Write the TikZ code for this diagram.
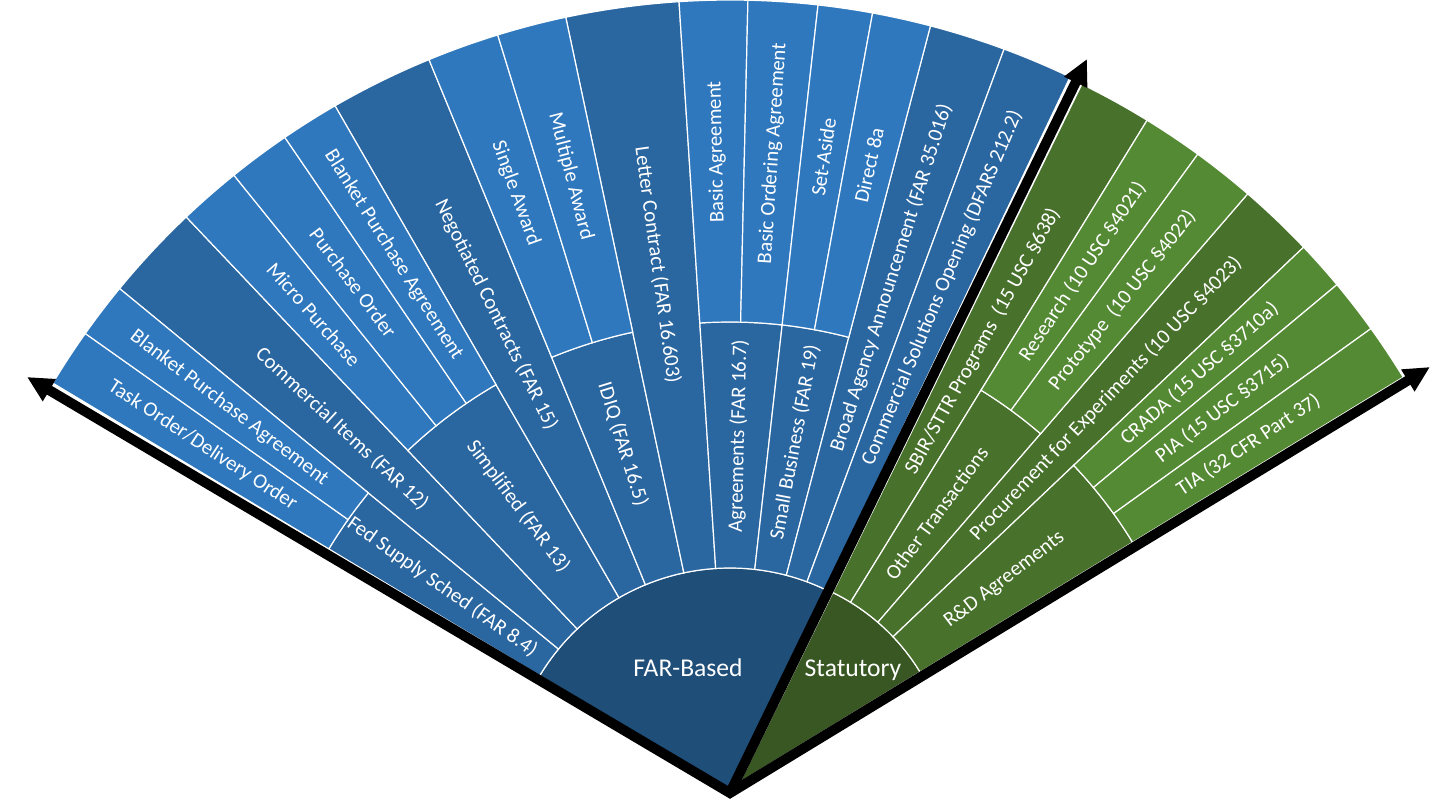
\documentclass[tikz,border=0pt]{standalone}
\usepackage{fontspec}
\setmainfont{Carlito}
\usetikzlibrary{arrows.meta}
\definecolor{farCoreBlue}{HTML}{1F4E79}
\definecolor{farOneBlue}{HTML}{2A66A0}
\definecolor{farTwoBlue}{HTML}{2F78BE}
\definecolor{statCoreGreen}{HTML}{385723}
\definecolor{statOneGreen}{HTML}{48712C}
\definecolor{statTwoGreen}{HTML}{558A35}
\tikzset{
  farcore/.style={fill=farCoreBlue, draw=white, line width=0.6pt},
  farone/.style={fill=farOneBlue, draw=white, line width=0.6pt},
  fartwo/.style={fill=farTwoBlue, draw=white, line width=0.6pt},
  statcore/.style={fill=statCoreGreen, draw=white, line width=0.6pt},
  statone/.style={fill=statOneGreen, draw=white, line width=0.6pt},
  stattwo/.style={fill=statTwoGreen, draw=white, line width=0.6pt},
  seglabel/.style={text=white, font=\fontsize{10.4}{12}\selectfont, inner sep=0pt},
  corelabel/.style={text=white, font=\fontsize{12.8}{15}\selectfont, inner sep=0pt},
  fanarrow/.style={line width=5pt, draw=black, line join=miter},
  fantip/.tip={Triangle[length=13pt, width=12pt]},
}
\newcommand{\fanseg}[6]{\filldraw[#1, shift={(#2)}] (#3:#5) arc[start angle=#3, end angle=#4, radius=#5] -- (#4:#6) arc[start angle=#4, end angle=#3, radius=#6] -- cycle;}

\begin{document}
\begin{tikzpicture}[x=0.5pt, y=0.5pt]
\useasboundingbox (0,0) rectangle (1456,802);
\coordinate (farc) at (730,12);
\coordinate (statc) at (740,20);
\coordinate (apex) at (730,9);
\coordinate (lefttip) at (27,425);
\coordinate (toptip) at (1087,743);
\coordinate (righttip) at (1430,435);

% FAR-based half
\filldraw[farcore] (730,12) -- ++(149:222) arc[start angle=149, end angle=64.5, radius=222] -- cycle;
\fanseg{farone}{730,12}{149}{140.6}{222}{468}
\fanseg{farone}{730,12}{140.6}{133.5}{222}{790}
\fanseg{farone}{730,12}{133.5}{120}{222}{468}
\fanseg{farone}{730,12}{120}{112.4}{222}{790}
\fanseg{farone}{730,12}{112.4}{102}{222}{468}
\fanseg{farone}{730,12}{102}{93.7}{222}{790}
\fanseg{farone}{730,12}{93.7}{83.6}{222}{468}
\fanseg{farone}{730,12}{83.6}{75.3}{222}{468}
\fanseg{farone}{730,12}{75.3}{69.7}{222}{790}
\fanseg{farone}{730,12}{69.7}{64.5}{222}{790}
\fanseg{fartwo}{730,12}{149}{144.7}{468}{790}
\fanseg{fartwo}{730,12}{144.7}{140.6}{468}{790}
\fanseg{fartwo}{730,12}{133.5}{128.9}{468}{790}
\fanseg{fartwo}{730,12}{128.9}{124.3}{468}{790}
\fanseg{fartwo}{730,12}{124.3}{120}{468}{790}
\fanseg{fartwo}{730,12}{112.4}{107.1}{468}{790}
\fanseg{fartwo}{730,12}{107.1}{102}{468}{790}
\fanseg{fartwo}{730,12}{93.7}{88.7}{468}{790}
\fanseg{fartwo}{730,12}{88.7}{83.6}{468}{790}
\fanseg{fartwo}{730,12}{83.6}{79.6}{468}{790}
\fanseg{fartwo}{730,12}{79.6}{75.3}{468}{790}

% statutory half
\filldraw[statcore] (740,20) -- ++(63.9:211) arc[start angle=63.9, end angle=31.4, radius=211] -- cycle;
\fanseg{statone}{740,20}{63.9}{58.4}{211}{777}
\fanseg{statone}{740,20}{58.4}{49.2}{211}{460}
\fanseg{statone}{740,20}{49.2}{43.5}{211}{777}
\fanseg{statone}{740,20}{43.5}{31.4}{211}{460}
\fanseg{stattwo}{740,20}{58.4}{53.9}{460}{777}
\fanseg{stattwo}{740,20}{53.9}{49.2}{460}{777}
\fanseg{stattwo}{740,20}{43.5}{39.8}{460}{777}
\fanseg{stattwo}{740,20}{39.8}{35.7}{460}{777}
\fanseg{stattwo}{740,20}{35.7}{31.4}{460}{777}

\node[corelabel] (farlbl) at (688,134) {FAR-Based};
\node[corelabel] (statlbl) at (853,132) {Statutory};

\node[seglabel, rotate=-35.2] (fedlbl) at ([shift={(144.8:352)}]farc) {Fed Supply Sched (FAR 8.4)};
\node[seglabel, rotate=-53.25] (simplbl) at ([shift={(126.75:354)}]farc) {Simplified (FAR 13)};
\node[seglabel, rotate=-72.8] (idiqlbl) at ([shift={(107.2:362)}]farc) {IDIQ (FAR 16.5)};
\node[seglabel, rotate=88.65] (agrlbl) at ([shift={(88.65:354)}]farc) {Agreements (FAR 16.7)};
\node[seglabel, rotate=79.45] (sblbl) at ([shift={(79.45:354)}]farc) {Small Business (FAR 19)};
\node[seglabel, rotate=-42.95] (comlbl) at ([shift={(137.05:530)}]farc) {Commercial Items (FAR 12)};
\node[seglabel, rotate=-63.8] (neglbl) at ([shift={(116.2:530)}]farc) {Negotiated Contracts (FAR 15)};
\node[seglabel, rotate=-82.15] (letlbl) at ([shift={(97.85:530)}]farc) {Letter Contract (FAR 16.603)};
\node[seglabel, rotate=72.5] (baalbl) at ([shift={(72.5:537)}]farc) {Broad Agency Announcement (FAR 35.016)};
\node[seglabel, rotate=67.1] (csolbl) at ([shift={(67.1:545)}]farc) {Commercial Solutions Opening (DFARS 212.2)};
\node[seglabel, rotate=-33.15] (tolbl) at ([shift={(146.85:630)}]farc) {Task Order/Delivery Order};
\node[seglabel, rotate=-37.35] (bpaonelbl) at ([shift={(142.65:630)}]farc) {Blanket Purchase Agreement};
\node[seglabel, rotate=-48.8] (microlbl) at ([shift={(131.2:632)}]farc) {Micro Purchase};
\node[seglabel, rotate=-53.4] (polbl) at ([shift={(126.6:632)}]farc) {Purchase Order};
\node[seglabel, rotate=-57.85] (bpatwolbl) at ([shift={(122.15:632)}]farc) {Blanket Purchase Agreement};
\node[seglabel, rotate=-70.25] (singlelbl) at ([shift={(109.75:634)}]farc) {Single Award};
\node[seglabel, rotate=-75.45] (multilbl) at ([shift={(104.55:634)}]farc) {Multiple Award};
\node[seglabel, rotate=91.2] (basiclbl) at ([shift={(91.2:638)}]farc) {Basic Agreement};
\node[seglabel, rotate=86.15] (boalbl) at ([shift={(86.15:638)}]farc) {Basic Ordering Agreement};
\node[seglabel, rotate=81.6] (setlbl) at ([shift={(81.6:640)}]farc) {Set-Aside};
\node[seglabel, rotate=77.45] (d8albl) at ([shift={(77.45:640)}]farc) {Direct 8a};

\node[seglabel, rotate=61.15] (sbirlbl) at ([shift={(61.15:503)}]statc) {SBIR/STTR Programs~ (15 USC §638)};
\node[seglabel, rotate=53.8] (otlbl) at ([shift={(53.8:333)}]statc) {Other Transactions};
\node[seglabel, rotate=46.35] (proclbl) at ([shift={(46.35:530)}]statc) {Procurement for Experiments (10 USC §4023)};
\node[seglabel, rotate=37.45] (rdlbl) at ([shift={(37.45:333)}]statc) {R\&D Agreements};
\node[seglabel, rotate=56.15] (reslbl) at ([shift={(56.15:615)}]statc) {Research (10 USC §4021)};
\node[seglabel, rotate=51.55] (protolbl) at ([shift={(51.55:615)}]statc) {Prototype~ (10 USC §4022)};
\node[seglabel, rotate=41.65] (cradalbl) at ([shift={(41.65:615)}]statc) {CRADA (15 USC §3710a)};
\node[seglabel, rotate=37.75] (pialbl) at ([shift={(37.75:610)}]statc) {PIA (15 USC §3715)};
\node[seglabel, rotate=33.55] (tialbl) at ([shift={(33.55:610)}]statc) {TIA (32 CFR Part 37)};

\draw[fanarrow, fantip-fantip] (lefttip) -- (apex) -- (righttip);
\draw[fanarrow, -fantip] (apex) -- (toptip);
\end{tikzpicture}
\end{document}
